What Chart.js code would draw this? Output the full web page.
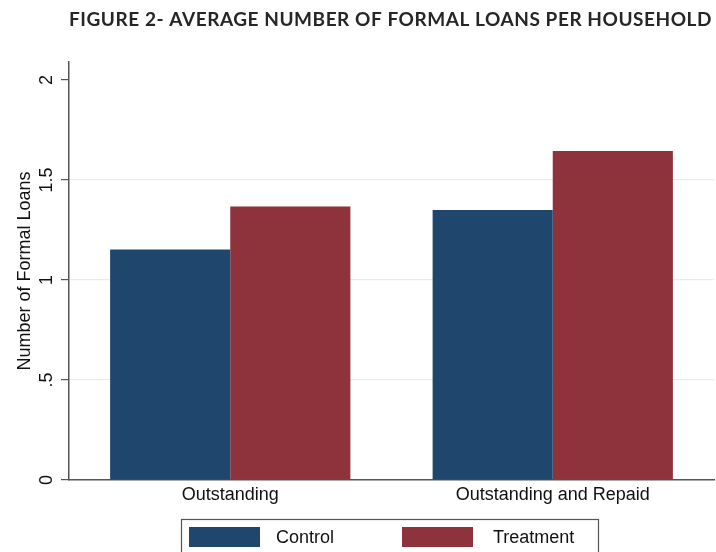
<!DOCTYPE html>
<html><head><meta charset="utf-8">
<script src="https://cdn.jsdelivr.net/npm/chart.js@4"></script>
<style>html,body{margin:0;padding:0;background:#fff;}#wrap{width:716px;height:552px;}</style>
</head><body><div id="wrap"><canvas id="c" width="716" height="552"></canvas></div>
<script>
const chartTitle = 'FIGURE 2- AVERAGE NUMBER OF FORMAL LOANS PER HOUSEHOLD';
const categories = ['Outstanding', 'Outstanding and Repaid'];
const seriesNames = ['Control', 'Treatment'];
const controlValues = [1.153, 1.35];
const treatmentValues = [1.367, 1.645];
const yTickValues = [0, 0.5, 1, 1.5, 2];
const yTickLabels = ['0', '.5', '1', '1.5', '2'];
const yAxisTitle = 'Number of Formal Loans';

const BLUE = '#1f476d';
const RED = '#8e333b';
const FONT = "'Liberation Sans', Arial, sans-serif";

const overlay = {
  id: 'overlay',
  afterDraw(chart) {
    const ctx = chart.ctx;
    ctx.save();
    // title
    ctx.fillStyle = '#262626';
    ctx.font = "bold 19px Lato, 'Open Sans', sans-serif";
    ctx.textBaseline = 'middle';
    ctx.textAlign = 'left';
    if ('letterSpacing' in ctx) ctx.letterSpacing = '0.55px';
    ctx.fillText(chartTitle, 69, 20);
    if ('letterSpacing' in ctx) ctx.letterSpacing = '0px';
    // legend
    ctx.strokeStyle = '#555';
    ctx.lineWidth = 1.2;
    ctx.strokeRect(181.5, 519.5, 417, 60);
    const items = chart.data.datasets;
    const sx = [189, 402];
    const tx = [276, 493];
    ctx.font = '18px ' + FONT;
    items.forEach((ds, i) => {
      ctx.fillStyle = ds.backgroundColor;
      ctx.fillRect(sx[i], 527, 71, 20);
      ctx.fillStyle = '#111';
      ctx.fillText(ds.label, tx[i], 538);
    });
    ctx.restore();
  }
};

new Chart(document.getElementById('c'), {
  type: 'bar',
  data: {
    labels: categories,
    datasets: [
      { label: seriesNames[0], data: controlValues, backgroundColor: BLUE, borderWidth: 0 },
      { label: seriesNames[1], data: treatmentValues, backgroundColor: RED, borderWidth: 0 }
    ]
  },
  options: {
    responsive: false,
    devicePixelRatio: 1,
    animation: false,
    layout: { padding: { top: 62, left: 0, right: 2, bottom: 0 } },
    categoryPercentage: 0.745,
    barPercentage: 1.0,
    plugins: { legend: { display: false }, tooltip: { enabled: false }, title: { display: false } },
    scales: {
      x: {
        grid: { display: false, drawTicks: false },
        border: { display: true, color: '#555', width: 1.5 },
        ticks: { font: { family: FONT, size: 18 }, color: '#111', padding: 4, maxRotation: 0 },
        afterFit(s) { s.height = 72; }
      },
      y: {
        min: 0,
        max: 2.09,
        afterBuildTicks(s) { s.ticks = yTickValues.map(v => ({ value: v })); },
        grid: {
          color: c => (c.tick && c.tick.value > 0 && c.tick.value < 2) ? '#e4eef0' : 'rgba(0,0,0,0)',
          tickColor: '#555',
          tickLength: 8,
          lineWidth: 1.2
        },
        border: { display: true, color: '#555', width: 1.5 },
        ticks: {
          font: { family: FONT, size: 18 },
          color: '#111',
          padding: 1,
          minRotation: 90,
          maxRotation: 90,
          crossAlign: 'center',
          callback: (v) => yTickLabels[yTickValues.indexOf(v)]
        },
        title: { display: true, text: yAxisTitle, font: { family: FONT, size: 18 }, color: '#111', padding: { top: 14, bottom: 0 } },
        afterFit(s) { s.width = 69; }
      }
    }
  },
  plugins: [overlay]
});
</script>
</body></html>
